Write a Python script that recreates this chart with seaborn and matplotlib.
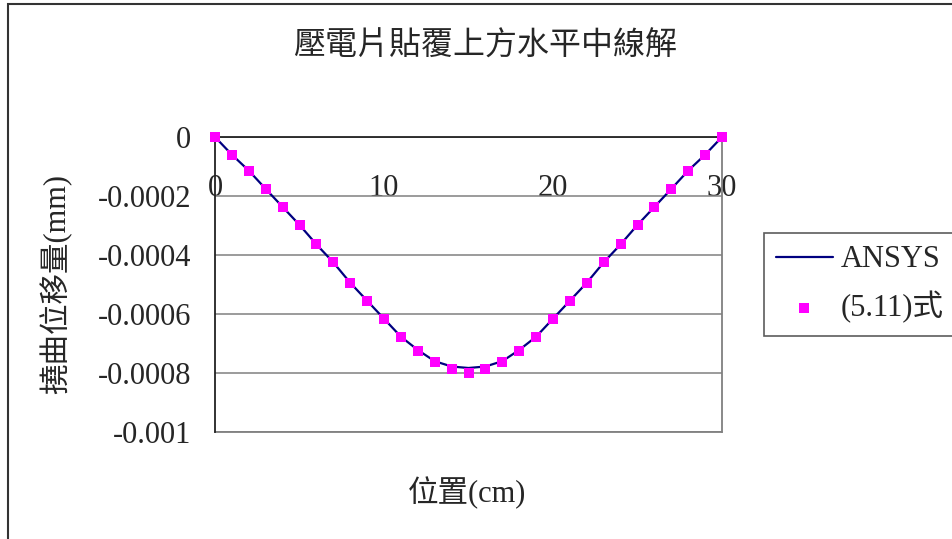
import matplotlib
matplotlib.use("Agg")
import matplotlib.pyplot as plt
from matplotlib.patches import Rectangle
import seaborn as sns
import pandas as pd

# Position along the plate (cm)
positions = list(range(31))

# ANSYS finite-element deflection (mm)
ansys_deflection = [
    0, -0.00006, -0.000114, -0.000176, -0.000237, -0.000298, -0.000364,
    -0.000425, -0.000494, -0.000555, -0.000616, -0.000677, -0.000722,
    -0.00076, -0.000778, -0.000783, -0.000778, -0.00076, -0.000722,
    -0.000677, -0.000616, -0.000555, -0.000494, -0.000425, -0.000364,
    -0.000298, -0.000237, -0.000176, -0.000114, -0.00006, 0,
]

# Analytical deflection from eq. (5.11) (mm)
eq_deflection = [
    0, -0.00006, -0.000114, -0.000176, -0.000237, -0.000298, -0.000364,
    -0.000425, -0.000494, -0.000555, -0.000616, -0.000677, -0.000724,
    -0.000764, -0.000785, -0.0008, -0.000785, -0.000764, -0.000724,
    -0.000677, -0.000616, -0.000555, -0.000494, -0.000425, -0.000364,
    -0.000298, -0.000237, -0.000176, -0.000114, -0.00006, 0,
]

x_ticks = [0, 10, 20, 30]
x_tick_labels = ["0", "10", "20", "30"]
y_ticks = [0, -0.0002, -0.0004, -0.0006, -0.0008, -0.001]
y_tick_labels = ["0", "-0.0002", "-0.0004", "-0.0006", "-0.0008", "-0.001"]

series_names = ["ANSYS", "(5.11)式"]
title_text = "壓電片貼覆上方水平中線解"
x_label = "位置(cm)"
y_label = "撓曲位移量(mm)"

sns.set_style("white")
plt.rcParams["font.family"] = ["Liberation Serif", "Noto Sans CJK TC", "DejaVu Sans"]

W, H = 952, 539
fig = plt.figure(figsize=(W / 100, H / 100), dpi=100)
ax = fig.add_axes([215 / W, 1 - 432 / H, (722 - 215) / W, (432 - 137) / H])

df_line = pd.DataFrame({"x": positions, "y": ansys_deflection})
df_pts = pd.DataFrame({"x": positions, "y": eq_deflection})

sns.lineplot(data=df_line, x="x", y="y", ax=ax, color="#000080", lw=1.6,
             label=series_names[0], zorder=3)
sns.scatterplot(data=df_pts, x="x", y="y", ax=ax, color="#FF00FF", marker="s",
                s=62, linewidth=0, label=series_names[1], zorder=4, clip_on=False)

ax.set_xlim(0, 30)
ax.set_ylim(-0.001, 0)
ax.set_xticks(x_ticks, x_tick_labels)
ax.set_yticks(y_ticks, y_tick_labels)

# horizontal gridlines
ax.yaxis.grid(True, color="#808080", lw=1.1)
ax.xaxis.grid(False)
ax.axhline(-0.001, color="#808080", lw=1.3, clip_on=False, zorder=2)

# category axis crosses at y = 0
ax.spines["bottom"].set_position(("data", 0))
ax.spines["bottom"].set_color("#222222")
ax.spines["bottom"].set_linewidth(1.3)
ax.spines["top"].set_visible(False)
ax.spines["left"].set_color("#222222")
ax.spines["left"].set_linewidth(1.3)
ax.spines["right"].set_color("#808080")
ax.spines["right"].set_linewidth(1.3)

ax.tick_params(axis="x", direction="in", length=5, width=1.1, color="#222222",
               labelsize=22, pad=27)
ax.tick_params(axis="y", direction="in", length=7, width=1.1, color="#222222",
               labelsize=22, pad=17)

ax.set_xlabel("")
ax.set_ylabel("")
fig.text(467.5 / W, 1 - 493 / H, x_label, ha="center", va="center", fontsize=22)
fig.text(56 / W, 1 - 284 / H, y_label, ha="center", va="center", fontsize=22,
         rotation=90)
fig.text(485 / W, 1 - 47 / H, title_text, ha="center", va="center", fontsize=23)

leg = ax.legend(loc="upper left", bbox_to_anchor=(764 / W, 1 - 233 / H),
                bbox_transform=fig.transFigure, borderaxespad=0, fontsize=22,
                frameon=True, fancybox=False, handlelength=1.85,
                handletextpad=0.25, labelspacing=0.55, borderpad=0.4,
                markerscale=1.0)
leg.get_frame().set_edgecolor("#333333")
leg.get_frame().set_linewidth(1.2)

# outer chart frame
fig.patches.append(Rectangle((8 / W, -0.1), 1.2, 1 - 4 / H + 0.1,
                             transform=fig.transFigure, fill=False,
                             edgecolor="#333333", lw=1.5))

fig.savefig("out.png", dpi=100)
